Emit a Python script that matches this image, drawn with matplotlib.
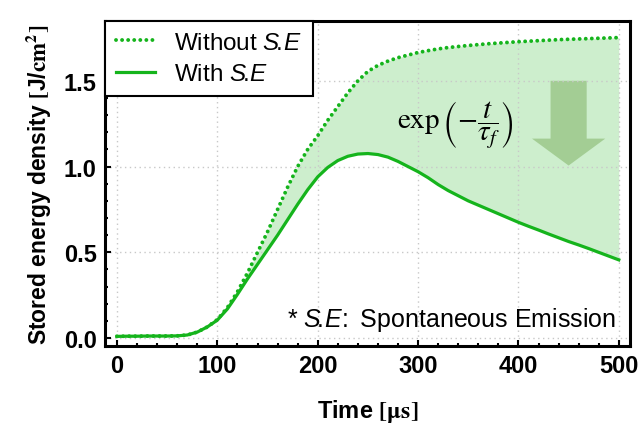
import numpy as np
import matplotlib
matplotlib.use("Agg")
import matplotlib.pyplot as plt
from matplotlib.patches import FancyArrow
from matplotlib.ticker import MultipleLocator

plt.rcParams['font.family'] = ['Liberation Sans', 'DejaVu Sans']
plt.rcParams['mathtext.fontset'] = 'custom'
plt.rcParams['mathtext.rm'] = 'Liberation Sans'
plt.rcParams['mathtext.it'] = 'Liberation Sans:italic'
plt.rcParams['mathtext.bf'] = 'Liberation Sans:bold'

# time axis [us]
t = np.arange(0, 501, 10)

# stored energy with spontaneous emission
with_se = [0.010, 0.011, 0.011, 0.012, 0.012, 0.012, 0.013, 0.018, 0.035, 0.065,
           0.105, 0.170, 0.255, 0.345, 0.430, 0.515, 0.600, 0.690, 0.780, 0.865,
           0.940, 0.995, 1.035, 1.060, 1.073, 1.076, 1.070, 1.055, 1.030, 1.000,
           0.970, 0.935, 0.895, 0.860, 0.830, 0.800, 0.775, 0.750, 0.725, 0.700,
           0.675, 0.652, 0.630, 0.607, 0.585, 0.563, 0.543, 0.522, 0.500, 0.478,
           0.456]

# stored energy without spontaneous emission
without_se = [0.010, 0.011, 0.011, 0.012, 0.012, 0.012, 0.013, 0.018, 0.035, 0.065,
              0.108, 0.178, 0.270, 0.380, 0.500, 0.620, 0.750, 0.880, 1.000, 1.100,
              1.180, 1.270, 1.350, 1.430, 1.500, 1.555, 1.590, 1.615, 1.635, 1.650,
              1.665, 1.676, 1.686, 1.694, 1.700, 1.706, 1.711, 1.716, 1.720, 1.724,
              1.728, 1.731, 1.734, 1.737, 1.740, 1.742, 1.744, 1.746, 1.748, 1.750,
              1.752]

green = '#15b41c'

fig = plt.figure(figsize=(6.44, 4.27), dpi=100)
ax = fig.add_axes([0.163, 0.187, 0.815, 0.762])

ax.fill_between(t, with_se, without_se, color='#cdeecd', lw=0)
ax.plot(t, without_se, color=green, lw=2.8, linestyle=(0, (0.01, 1.55)),
        dash_capstyle='round', label='Without $S\\!.\\!E$')
ax.plot(t, with_se, color=green, lw=2.3, label='With $S\\!.\\!E$')

ax.set_xlim(-12, 511)
ax.set_ylim(-0.047, 1.85)
ax.set_xticks([0, 100, 200, 300, 400, 500])
ax.set_yticks([0.0, 0.5, 1.0, 1.5])
ax.set_yticklabels(['0.0', '0.5', '1.0', '1.5'])
ax.xaxis.set_minor_locator(MultipleLocator(20))
ax.yaxis.set_minor_locator(MultipleLocator(0.1))
ax.tick_params(which='both', direction='in', width=1.5)
ax.tick_params(which='major', length=4, labelsize=17, pad=6)
ax.tick_params(which='minor', length=2.5)
for lab in ax.get_xticklabels() + ax.get_yticklabels():
    lab.set_fontweight('bold')
for sp in ax.spines.values():
    sp.set_linewidth(2.2)

ax.grid(True, which='major', color='#c8c8c8', linestyle=(0, (1, 2.5)), lw=1)

ax.set_xlabel('Time $\\mathbf{[\\mu s]}$', fontsize=17, fontweight='bold',
              labelpad=14, math_fontfamily='stix')
ax.set_ylabel('Stored energy density $\\mathbf{[}$J/$\\mathbf{cm^2]}$',
              fontsize=16.5, fontweight='bold', labelpad=8, math_fontfamily='stix')

leg = ax.legend(loc='upper left', fontsize=17.5, frameon=True, fancybox=False,
                borderaxespad=0, handlelength=1.6, handletextpad=0.8,
                borderpad=0.45, labelspacing=0.4)
leg.get_frame().set_edgecolor('black')
leg.get_frame().set_linewidth(1.5)
leg.get_frame().set_alpha(1)

ax.text(337, 1.245, '$\\exp\\left(-\\dfrac{t}{\\tau_f}\\right)$', fontsize=21,
        ha='center', va='center', math_fontfamily='stix')

arrow = FancyArrow(450, 1.50, 0, -0.494, width=36, head_width=73,
                   head_length=0.157, length_includes_head=True,
                   facecolor='#9cc88a', edgecolor='none', alpha=0.85)
ax.add_patch(arrow)

ax.text(497, 0.11, '* $S\\!.\\!E\\!:$ Spontaneous Emission', fontsize=18,
        ha='right', va='center')

fig.savefig('out.png', dpi=100)
